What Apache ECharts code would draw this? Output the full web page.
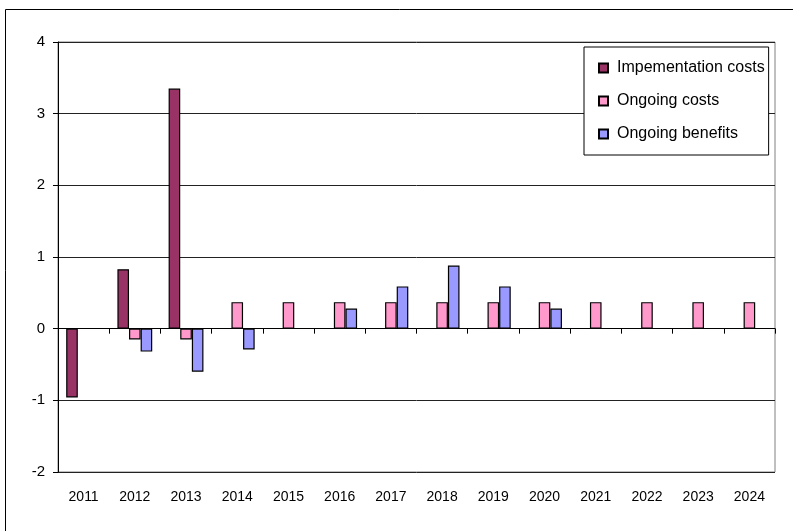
<!DOCTYPE html>
<html><head><meta charset="utf-8">
<script src="https://cdn.jsdelivr.net/npm/echarts@6/dist/echarts.min.js"></script>
<style>html,body{margin:0;padding:0;background:#fff}#c{width:793px;height:531px}</style>
</head><body><div id="c"></div>
<script>
const years = ['2011','2012','2013','2014','2015','2016','2017','2018','2019','2020','2021','2022','2023','2024'];
const implementationCosts = [-0.96, 0.83, 3.35, '-', '-', '-', '-', '-', '-', '-', '-', '-', '-', '-'];
const ongoingCosts = ['-', -0.15, -0.15, 0.37, 0.37, 0.37, 0.37, 0.37, 0.37, 0.37, 0.37, 0.37, 0.37, 0.37];
const ongoingBenefits = ['-', -0.32, -0.6, -0.29, '-', 0.28, 0.59, 0.88, 0.59, 0.28, '-', '-', '-', '-'];
const yTicks = [-2, -1, 0, 1, 2, 3, 4];

const FONT = '"Liberation Sans", Arial, sans-serif';
const chart = echarts.init(document.getElementById('c'), null, {renderer: 'canvas'});
const bar = (name, data, color) => ({
  name, type: 'bar', data, xAxisIndex: 0,
  barGap: '0%', barCategoryGap: '32%',
  itemStyle: {color, borderColor: '#000', borderWidth: 1.2},
  emphasis: {disabled: true}
});
chart.setOption({
  animation: false,
  graphic: [{type: 'rect', shape: {x: 5.5, y: 9.5, width: 900, height: 700}, style: {fill: 'none', stroke: '#000', lineWidth: 1}, z: 0}],
  grid: {left: 58, right: 18, top: 42, bottom: 59, show: true, borderColor: '#808080', borderWidth: 1},
  legend: {
    orient: 'vertical', left: 584, top: 47,
    backgroundColor: '#fff', borderColor: '#000', borderWidth: 1,
    padding: [13, 4, 13, 14], itemGap: 17,
    icon: 'rect', itemWidth: 9, itemHeight: 9,
    textStyle: {fontFamily: FONT, fontSize: 16, color: '#000', padding: [0, 0, 0, 4]},
    data: ['Impementation costs', 'Ongoing costs', 'Ongoing benefits']
  },
  xAxis: [{
    type: 'category', data: years,
    axisLine: {onZero: true, lineStyle: {color: '#000', width: 1}},
    axisTick: {show: true, inside: false, length: 5, lineStyle: {color: '#000'}},
    axisLabel: {show: false}, splitLine: {show: false}
  }, {
    type: 'category', data: years, position: 'bottom',
    axisLine: {show: false, onZero: false}, axisTick: {show: false},
    axisLabel: {fontFamily: FONT, fontSize: 14, color: '#000', margin: 18}
  }],
  yAxis: {
    type: 'value', min: yTicks[0], max: yTicks[yTicks.length - 1], interval: 1,
    axisLine: {show: true, lineStyle: {color: '#000', width: 1}},
    axisTick: {show: true, length: 5, lineStyle: {color: '#000'}},
    axisLabel: {fontFamily: FONT, fontSize: 15, color: '#000', margin: 13},
    splitLine: {show: true, lineStyle: {color: '#222', width: 1}}
  },
  series: [
    bar('Impementation costs', implementationCosts, '#993366'),
    bar('Ongoing costs', ongoingCosts, '#FF99CC'),
    bar('Ongoing benefits', ongoingBenefits, '#9999FF')
  ]
});
</script></body></html>
